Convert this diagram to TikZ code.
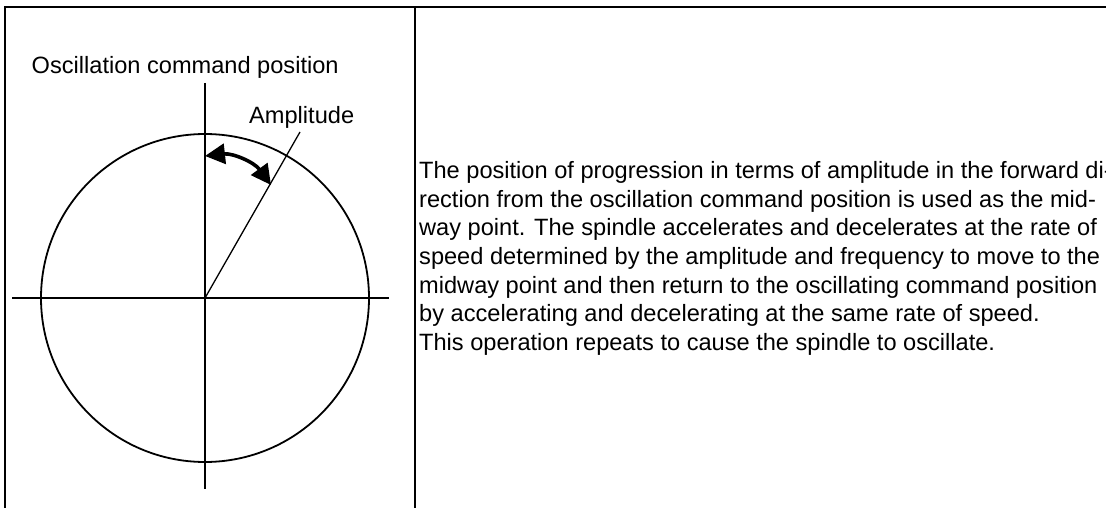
\documentclass[tikz,border=0pt]{standalone}
\usepackage{fontspec}
\setmainfont{Liberation Sans}
\usetikzlibrary{arrows.meta}

\tikzset{
  frame/.style={line width=2.4pt},
  axis/.style={line width=1.3pt},
  ring/.style={line width=1.8pt},
  label/.style={font=\fontsize{23.6}{28.6}\selectfont, inner sep=0pt},
  swing/.style={line width=3.6pt,
    {Triangle[length=20pt,width=20pt]}-{Triangle[length=20pt,width=20pt]}},
}

\begin{document}
\begin{tikzpicture}[x=1pt,y=-1pt]
  % bounding box
  \useasboundingbox (0,0) rectangle (1106,508);
  % Frame
  \draw[frame] (5,508) -- (5,7) -- (1106,7);
  \draw[frame] (415,7) -- (415,508);
  % Circle and axes
  \coordinate (O) at (205,298);
  \coordinate (west) at (12,298);
  \coordinate (east) at (389,298);
  \coordinate (north) at (205,83);
  \coordinate (south) at (205,489);
  \coordinate (amp) at (300,132);
  \draw[ring] (O) circle[radius=164pt];
  \draw[axis] (west) -- (east);
  \draw[axis] (north) -- (south);
  \draw[axis] (O) -- (amp);
  % Swing arrow
  \coordinate (swingA) at (205,156);
  \coordinate (swingB) at (271,185);
  \draw[swing] (swingA) to[bend left=30] (swingB);
  % Labels
  \node[label, anchor=base west] (cmd) at (31.5,73.3) {Oscillation command position};
  \node[label, anchor=base west] (ampl) at (249,123.3) {Amplitude};
  % Description
  \node[label, anchor=north west, align=left] (desc) at (419,161.3)
    {The position of progression in terms of amplitude in the forward di-\\
     rection from the oscillation command position is used as the mid-\\
     way point. The spindle accelerates and decelerates at the rate of\\
     speed determined by the amplitude and frequency to move to the\\
     midway point and then return to the oscillating command position\\
     by accelerating and decelerating at the same rate of speed.\\
     This operation repeats to cause the spindle to oscillate.};
\end{tikzpicture}
\end{document}
